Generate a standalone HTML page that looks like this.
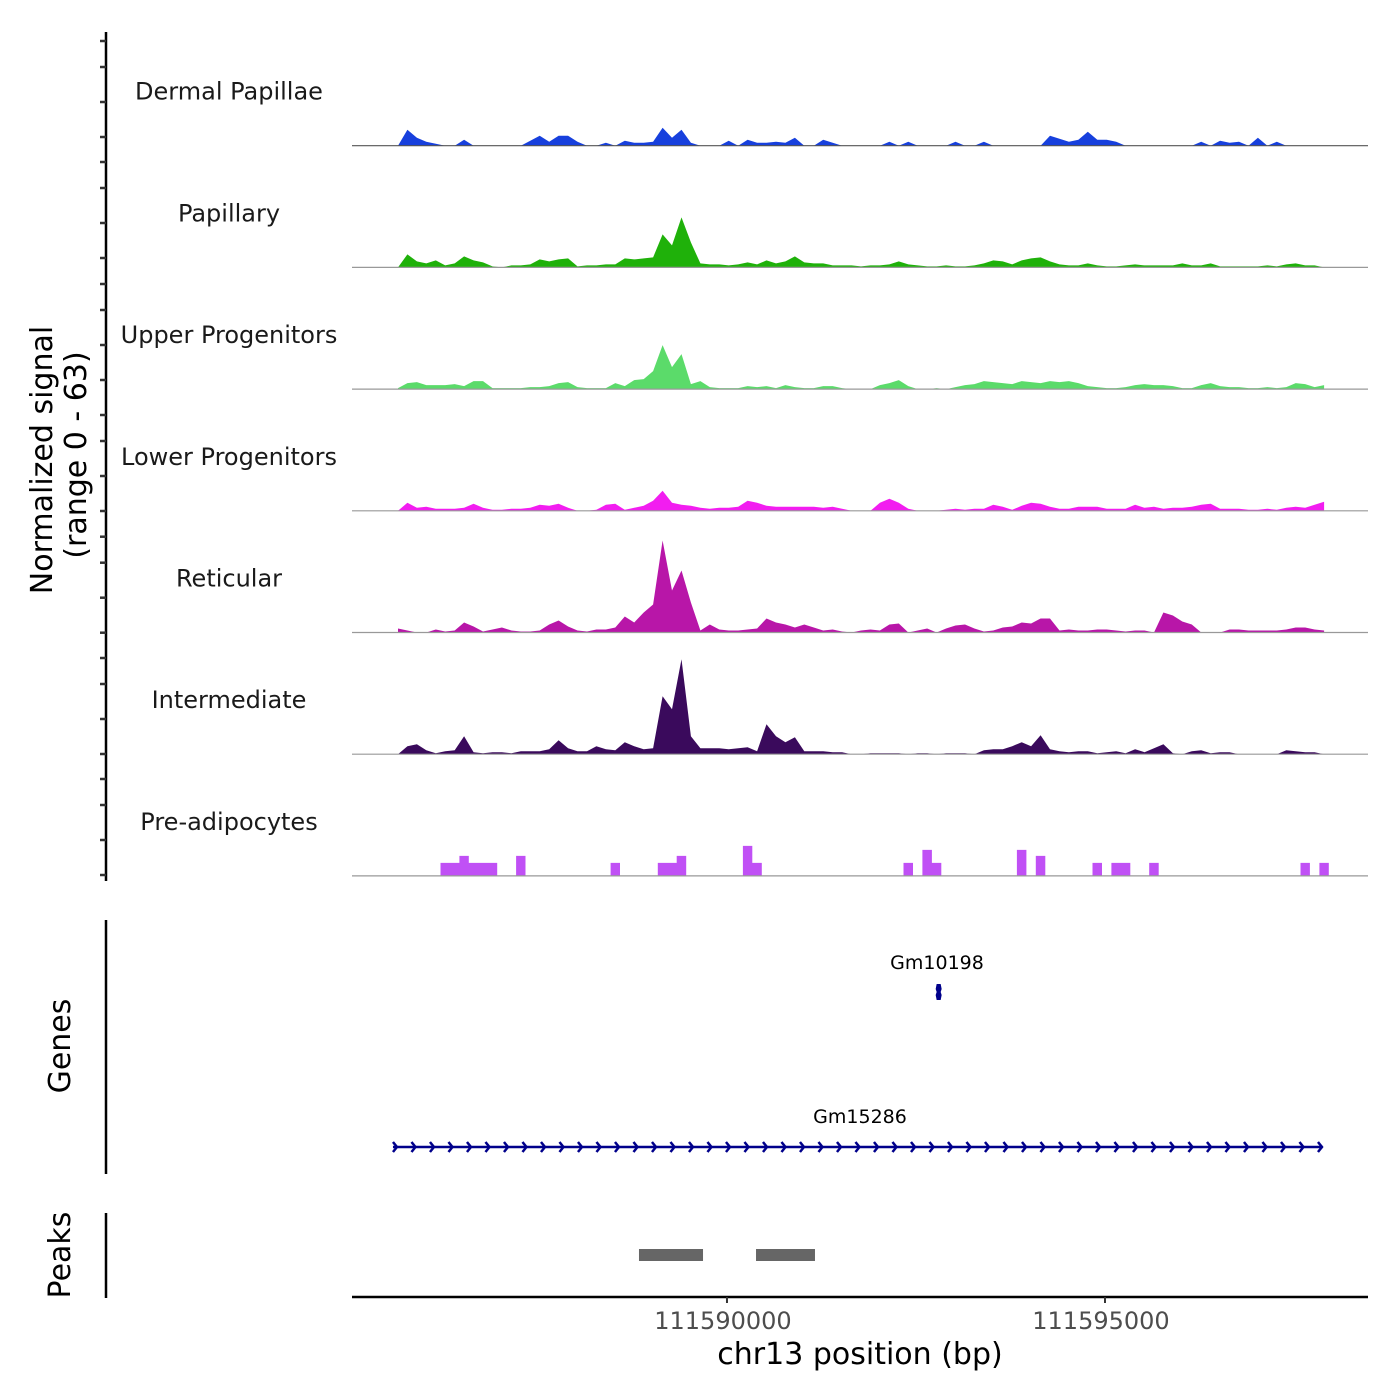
<!DOCTYPE html>
<html><head><meta charset="utf-8"><style>
body{margin:0;background:#fff}
svg{display:block;font-family:"DejaVu Sans","Liberation Sans",sans-serif}
</style></head><body>
<svg id="chart" width="1400" height="1400" viewBox="0 0 1400 1400" xmlns="http://www.w3.org/2000/svg">
<g id="tracks"></g>
<g id="yaxis"></g>
<text transform="translate(52,460) rotate(-90)" text-anchor="middle" font-size="30" fill="#000">Normalized signal</text>
<text transform="translate(86,455) rotate(-90)" text-anchor="middle" font-size="30" fill="#000">(range 0 - 63)</text>
<line x1="106" y1="920" x2="106" y2="1174" stroke="#000" stroke-width="2.5"/>
<text transform="translate(70,1046) rotate(-90)" text-anchor="middle" font-size="30">Genes</text>
<line x1="106" y1="1213" x2="106" y2="1298" stroke="#000" stroke-width="2.5"/>
<text transform="translate(70,1255) rotate(-90)" text-anchor="middle" font-size="30">Peaks</text>
<g id="genes"></g>
<g id="peaks"></g>
<line x1="352" y1="1297" x2="1368" y2="1297" stroke="#000" stroke-width="2.5"/>
<g id="xaxis"></g>
<text x="860" y="1364" text-anchor="middle" font-size="30">chr13 position (bp)</text>
</svg>
<script>
const NS="http://www.w3.org/2000/svg";
const regionStart=111585648, binSize=125;
const trackNames=["Dermal Papillae","Papillary","Upper Progenitors","Lower Progenitors","Reticular","Intermediate","Pre-adipocytes"];
const trackColors=["#1740dd","#1fb10a","#5bdb6a","#f21df0","#b816a8","#3a0a5c","#c050f5"];
const dermalPapillae=[0,16,8,4,2,0,0,6,0,0,0,0,0,0,5,10,4,10,10,4,0,0,3,0,5,3,3,4,18,8,16,3,0,0,0,5,0,6,3,3,4,3,8,0,0,6,3,0,0,0,0,0,4,0,4,0,0,0,0,4,0,0,4,0,0,0,0,0,0,10,7,4,6,14,6,6,4,0,0,0,0,0,0,0,0,4,0,5,3,4,0,8,0,4,0,0,0,0,0];
const papillary=[0,13,6,4,7,2,4,11,7,5,1,0,2,2,3,8,6,8,9,1,2,2,3,3,9,8,9,10,33,22,50,25,4,3,3,2,3,5,3,7,4,6,11,5,4,4,2,2,2,1,2,2,3,6,3,2,1,1,2,1,1,2,4,7,6,3,7,9,10,6,3,2,2,4,2,1,1,2,3,2,2,2,2,4,2,2,4,1,1,1,1,1,2,1,3,4,2,2,0];
const upperProgenitors=[1,6,7,4,4,4,5,3,8,8,1,1,1,1,2,2,3,6,7,2,1,1,1,6,3,9,10,18,44,22,35,5,8,2,1,1,1,3,2,3,1,4,2,1,1,3,3,1,0,0,0,4,6,9,3,0,0,1,0,2,4,5,8,7,6,5,8,7,6,8,7,8,6,3,2,1,1,2,4,5,4,4,3,1,1,4,6,3,2,2,1,1,2,1,2,6,5,2,4];
const lowerProgenitors=[0,8,3,4,2,2,2,3,7,3,1,1,2,2,3,6,5,7,3,0,0,1,6,7,1,3,5,10,20,8,6,5,3,2,3,3,4,10,8,5,4,4,4,4,4,3,4,2,0,0,0,8,12,8,2,0,0,0,1,2,1,2,2,6,4,1,5,8,7,4,2,2,4,4,4,2,2,2,6,3,4,2,3,3,4,6,7,2,2,2,1,1,2,1,3,4,3,6,9];
const reticular=[4,2,0,0,3,1,2,10,6,1,3,5,2,1,1,2,8,12,6,2,1,3,3,5,16,10,20,28,92,42,62,30,2,8,3,2,2,3,4,14,10,8,5,8,5,2,3,1,0,2,3,2,8,9,0,2,4,0,4,7,8,4,1,2,5,6,10,9,14,14,2,3,2,2,3,3,2,1,2,2,0,20,17,11,8,0,0,0,3,3,2,2,2,2,3,5,5,3,2];
const intermediate=[0,8,10,4,1,3,4,18,2,1,2,2,1,3,3,3,5,14,6,3,3,8,5,4,12,8,5,6,58,45,95,18,6,6,6,5,6,7,3,30,18,12,17,3,3,3,2,2,0,0,1,1,1,1,0,1,1,0,1,1,1,0,4,5,5,8,12,8,19,5,3,2,3,3,1,2,3,1,5,2,6,10,1,0,3,4,1,2,2,0,0,0,0,0,4,3,2,2,0];
const preAdipocytes=[0,0,0,0,0,13,13,20,13,13,13,0,0,20,0,0,0,0,0,0,0,0,0,13,0,0,0,0,13,13,20,0,0,0,0,0,0,30,13,0,0,0,0,0,0,0,0,0,0,0,0,0,0,0,13,0,26,13,0,0,0,0,0,0,0,0,26,0,20,0,0,0,0,0,13,0,13,13,0,0,13,0,0,0,0,0,0,0,0,0,0,0,0,0,0,0,13,0,13];
const seriesValues=[dermalPapillae,papillary,upperProgenitors,lowerProgenitors,reticular,intermediate,preAdipocytes];
const yTickOffsets=[0,35,70,96];
const xTickValues=[111590000,111595000];
const xTickLabels=["111590000","111595000"];
const peakStarts=[111588836,111590384];
const peakEnds=[111589683,111591164];
const geneNames=["Gm10198","Gm15286"];
const geneStarts=[111592750,111585582];
const geneEnds=[111592850,111597880];

const X0=352,X1=1368,bp0=111585040,bp1=111598479;
const xScale=b=>X0+(b-bp0)/(bp1-bp0)*(X1-X0);
const trackTop=32, trackH=121.7, pxPerUnit=1;
const baseY=i=>trackTop+trackH*(i+1)-8;
const yScale=(i,v)=>baseY(i)-v*pxPerUnit;
function mk(tag,attrs,parent){const e=document.createElementNS(NS,tag);for(const k in attrs)e.setAttribute(k,attrs[k]);parent.appendChild(e);return e;}

const tracks=document.getElementById('tracks');
const halfBin=(xScale(regionStart+binSize)-xScale(regionStart))/2;
seriesValues.forEach((vals,i)=>{
  const g=mk('g',{},tracks);
  
  
  const stepped=(i===6);
  let d='M'+xScale(regionStart).toFixed(1)+','+baseY(i);
  vals.forEach((v,j)=>{
    const x=xScale(regionStart+j*binSize), y=yScale(i,v).toFixed(1);
    if(stepped){d+=' L'+(x-halfBin).toFixed(1)+','+y+' L'+(x+halfBin).toFixed(1)+','+y;}
    else d+=' L'+x.toFixed(1)+','+y;
  });
  d+=' L'+(xScale(regionStart+(vals.length-1)*binSize)+(stepped?halfBin:0)).toFixed(1)+','+baseY(i)+' Z';
  const p=mk('path',{d:d,fill:trackColors[i]},g);
  
  
  const bl=mk('line',{x1:X0,x2:X1,y1:baseY(i),y2:baseY(i),stroke:i==0?'#555':'#999','stroke-width':1.2},g);
  
  
  const t=mk('text',{x:229,y:baseY(i)-46,'text-anchor':'middle','font-size':24,fill:'#1a1a1a'},g);
  t.textContent=trackNames[i];
  
  
});

const ya=document.getElementById('yaxis');
const al=mk('line',{x1:106,x2:106,y1:32,y2:881,stroke:'#000','stroke-width':2.5},ya);


const tickBases=[137,258,380,511,632.7,754,875];
tickBases.forEach(b=>{yTickOffsets.forEach(o=>{
  const y=b-o; if(y<36) return;
  const tk=mk('line',{x1:100,x2:106,y1:y,y2:y,stroke:'#333','stroke-width':2.5},ya);
  
  
});});

const xa=document.getElementById('xaxis');
xTickValues.forEach((v,i)=>{
  const x=xScale(v);
  const tk=mk('line',{x1:x,x2:x,y1:1297,y2:1303,stroke:'#333','stroke-width':2},xa);
  
  
  const t=mk('text',{x:x-4,y:1329,'text-anchor':'middle','font-size':24,fill:'#4d4d4d'},xa);
  t.textContent=xTickLabels[i];
  
  
});

const pk=document.getElementById('peaks');
peakStarts.forEach((s,i)=>{
  const r=mk('rect',{x:xScale(s),y:1249,width:xScale(peakEnds[i])-xScale(s),height:12,fill:'#666'},pk);
  
  
});

const gn=document.getElementById('genes');
const geneY=[992,1147], labelY=[969,1123];
geneNames.forEach((n,i)=>{
  const g=mk('g',{},gn);
  
  
  const xs=xScale(geneStarts[i]), xe=xScale(geneEnds[i]), y=geneY[i];
  if(i===0){
    const cx=(xs+xe)/2;
    mk('path',{d:`M${cx-2},${y-8} L${cx+2},${y-8} L${cx+3},${y-3} L${cx+2},${y} L${cx+3},${y+3} L${cx+2},${y+8} L${cx-2},${y+8} L${cx-3},${y+3} L${cx-2},${y} L${cx-3},${y-3} Z`,fill:'#00008b'},g);
  } else {
    mk('line',{x1:xs,x2:xe,y1:y,y2:y,stroke:'#00008b','stroke-width':2.5},g);
    let d='';
    for(let x=xs+4;x<=xe;x+=18.5){d+=`M${x-4},${y-5} L${x},${y} L${x-4},${y+5} `;}
    mk('path',{d:d,stroke:'#00008b','stroke-width':2.5,fill:'none'},g);
  }
  const t=mk('text',{x:i===0?937:860,y:labelY[i],'text-anchor':'middle','font-size':19,fill:'#000'},g);
  t.textContent=n;
  
  
});
</script>
</body></html>
